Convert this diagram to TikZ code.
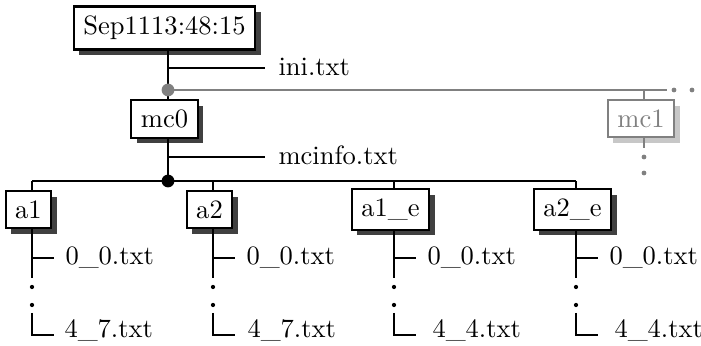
\documentclass[tikz,border=0pt]{standalone}
\usetikzlibrary{shadows,calc}
\begin{document}
\begin{tikzpicture}[x=0.377pt,y=-0.377pt,
  box/.style={draw, line width=0.8pt, fill=white, inner sep=3.6pt,
    drop shadow={shadow xshift=2.1pt, shadow yshift=-2.1pt, fill=black!75, opacity=1}},
  gbox/.style={draw=black!50, text=black!50, line width=0.8pt, fill=white, inner sep=3.6pt,
    drop shadow={shadow xshift=2.1pt, shadow yshift=-2.1pt, fill=black!22, opacity=1}},
  ln/.style={line width=0.75pt},
  gln/.style={line width=0.65pt, draw=black!50},
  lbl/.style={inner sep=0pt, anchor=base west},
  bdot/.style={circle, fill=black, inner sep=0pt, minimum size=4.8pt},
  gdot/.style={circle, fill=black!50, inner sep=0pt, minimum size=4.8pt},
  sdot/.style={circle, fill=black, inner sep=0pt, minimum size=1.6pt},
  gsdot/.style={circle, fill=black!50, inner sep=0pt, minimum size=1.8pt}]
\useasboundingbox (0,0) rectangle (701,346);

% top part
\node[box] (sep) at (164.5,28) {Sep1113:48:15};
\node[box] (mc0) at (164.5,119) {mc0};
\node[gbox] (mc1) at (641,118.5) {mc1};
\coordinate (ini) at (168,68);
\coordinate (iniend) at (265,68);
\node[lbl] (initxt) at (278,76) {ini.txt};
\coordinate (gdc) at (168,90);
\coordinate (gend) at (667,90);
\coordinate (mc1top) at (644,90);
\coordinate (mc1end) at (644,148);
\coordinate (mci) at (168,157);
\coordinate (mciend) at (265,157);
\node[lbl] (mcitxt) at (278,165) {mcinfo.txt};
\coordinate (bdc) at (168,181);

\draw[ln] (sep.south -| ini) -- (mc0.north -| ini);
\draw[ln] (ini) -- (iniend);
\draw[gln] (gdc) -- (gend);
\draw[gln] (mc1top) -- (mc1.north -| mc1top);
\draw[gln] (mc1.south -| mc1top) -- (mc1end);
\draw[ln] (mc0.south -| mci) -- (bdc);
\draw[ln] (mci) -- (mciend);

\node[gdot] (gd) at (gdc) {};
\node[gsdot] (g1) at (674,90) {};
\node[gsdot] (g2) at (692,90) {};
\node[gsdot] (g3) at (644,157) {};
\node[gsdot] (g4) at (644,173) {};

% children
\foreach \n/\lab/\x/\last/\lx in {a1/a1/32/4\_7/64, a2/a2/213/4\_7/247, a1e/a1\_e/394/4\_4/432, a2e/a2\_e/576/4\_4/614}{
  \node[box] (\n) at (\x-3.5,209.5) {\lab};
  \coordinate (\n-top) at (\x,181);
  \coordinate (\n-b1) at (\x,258);
  \coordinate (\n-s1) at (\x+22,258);
  \coordinate (\n-v) at (\x,278);
  \node[sdot] (\n-d1) at (\x,287) {};
  \node[sdot] (\n-d2) at (\x,305) {};
  \coordinate (\n-c0) at (\x,313);
  \coordinate (\n-c1) at (\x,335);
  \coordinate (\n-c2) at (\x+22,335);
  \node[lbl] (\n-f1) at (\x+33,265) {0\_0.txt};
  \node[lbl] (\n-f2) at (\lx,338) {\last.txt};
  \draw[ln] (\n.north -| \n-top) -- (\n-top);
  \draw[ln] (\n.south -| \n-top) -- (\n-v);
  \draw[ln] (\n-b1) -- (\n-s1);
  \draw[ln] (\n-c0) -- (\n-c1) -- (\n-c2);
}
\draw[ln] (a1-top) -- (a2e-top);
\node[bdot] (bd) at (bdc) {};
\end{tikzpicture}
\end{document}
